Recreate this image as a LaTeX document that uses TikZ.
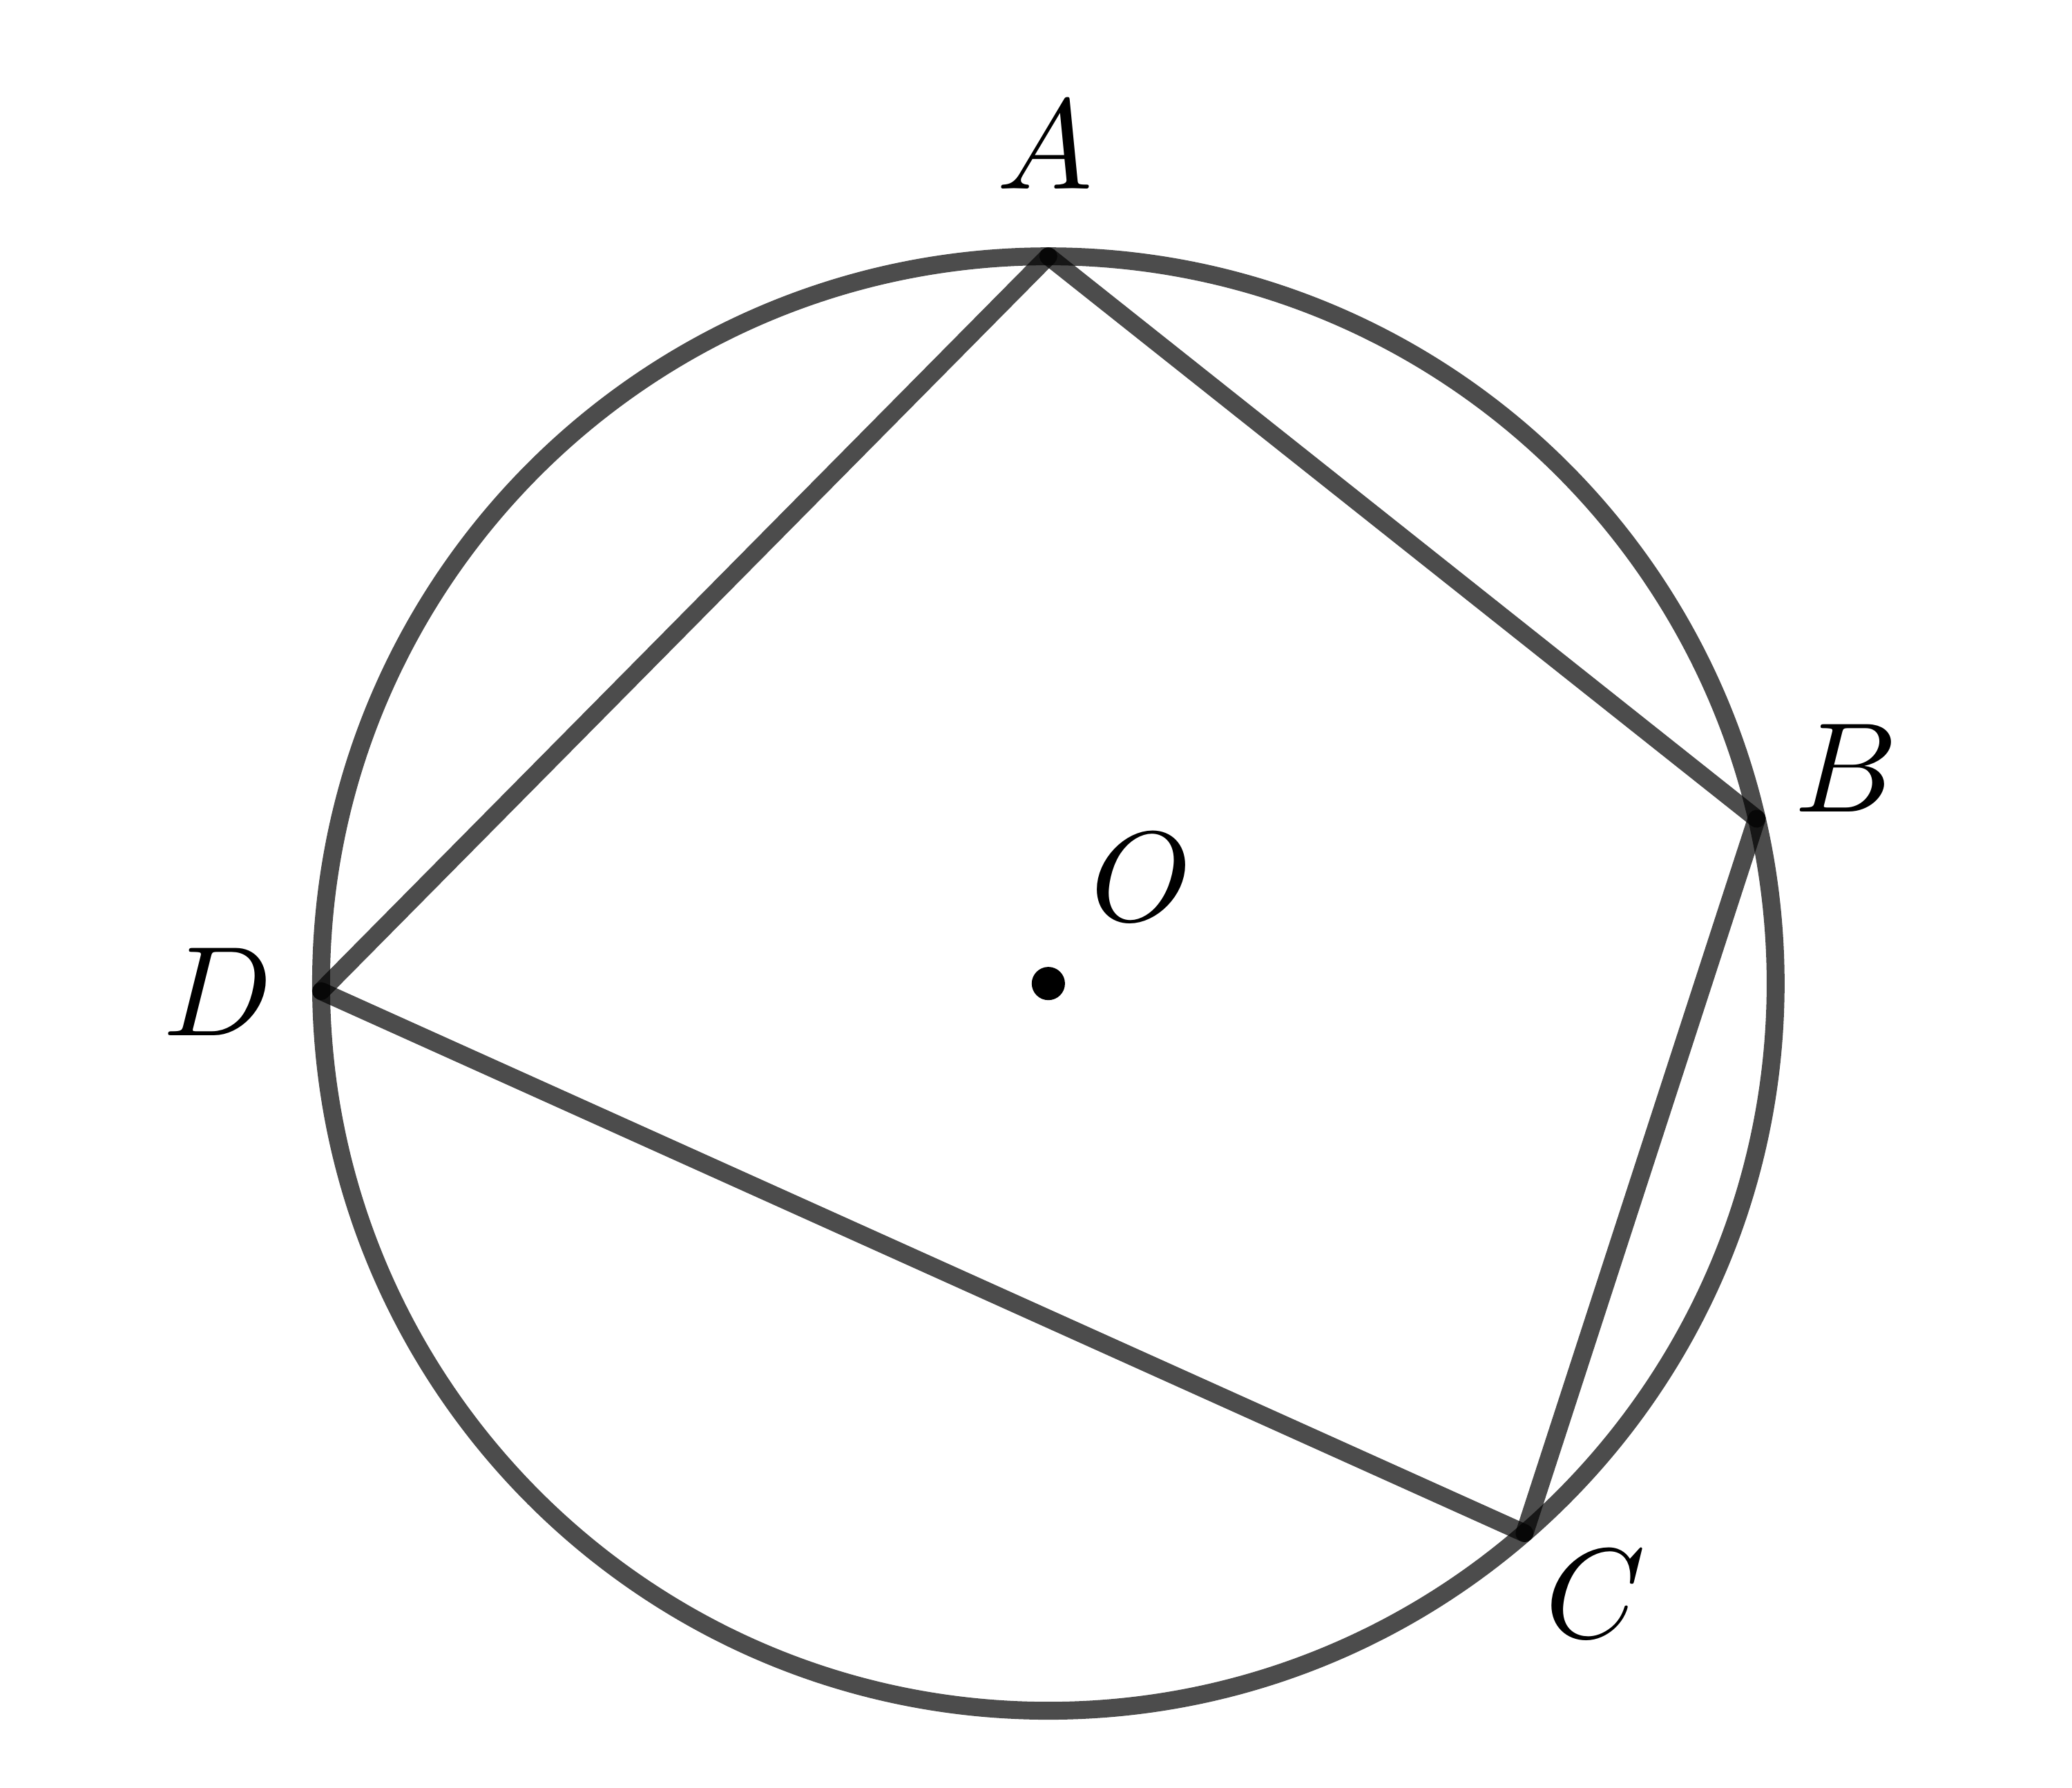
\documentclass[tikz,border=0pt]{standalone}
\usetikzlibrary{positioning}

\begin{document}
\begin{tikzpicture} [line width=1.4pt,line cap=round,side/.style={draw,opacity=0.7}]

  \useasboundingbox (-2.883,-2.211) rectangle (2.815,2.705);

  \coordinate (O) at (0,0);
  \coordinate (A) at (90:2);
  \coordinate (B) at (13.1:2);
  \coordinate (C) at (-49.1:2);
  \coordinate (D) at (180.6:2);

  \draw[side] (O) circle (2);
  \fill (O) circle (1.3pt);

  \path[side]
    (A) edge (B)
    (B) edge (C)
    (C) edge (D)
    (D) edge (A);

  \node (lA) at (-0.01,2.305) {$A$};
  \node (lB) at (2.195,0.593) {$B$};
  \node (lC) at (1.505,-1.679) {$C$};
  \node (lD) at (-2.283,-0.023) {$D$};
  \node (lO) at (0.255,0.293) {$O$};
\end{tikzpicture}
\end{document}
